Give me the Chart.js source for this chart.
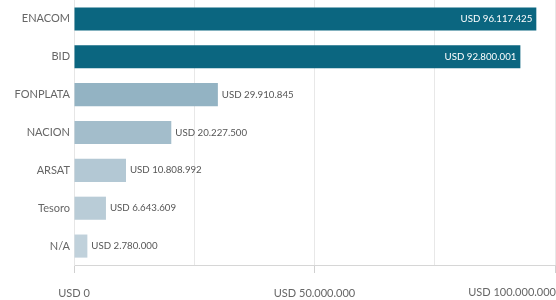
<!DOCTYPE html>
<html>
<head>
<meta charset="utf-8">
<script src="https://cdn.jsdelivr.net/npm/chart.js@4"></script>
<style>
  html, body { margin: 0; padding: 0; background: #fff; }
  .chart-wrap { position: relative; width: 556px; height: 300px; }
</style>
</head>
<body>
<div class="chart-wrap"><canvas id="chart-fuentes"></canvas></div>
<script>
// Datos
const categorias = ["ENACOM", "BID", "FONPLATA", "NACION", "ARSAT", "Tesoro", "N/A"];
const montos = [96117425, 92800001, 29910845, 20227500, 10808992, 6643609, 2780000];
const coloresBarras = ["#0b6680", "#0b6680", "#93b3c3", "#a3bdcb", "#b3c8d4", "#b9ccd7", "#c0d1db"];
const ticksEje = [0, 50000000, 100000000];

const FUENTE = "Lato, 'Open Sans', sans-serif";

function formatoUSD(v) {
    return "USD " + Math.round(v).toString().replace(/\B(?=(\d{3})+(?!\d))/g, ".");
}

// Etiquetas de valor: dentro (blancas) para las barras grandes, fuera para el resto
const etiquetasValor = {
    id: "etiquetasValor",
    afterDatasetsDraw(chart) {
        const ctx = chart.ctx;
        const meta = chart.getDatasetMeta(0);
        ctx.save();
        ctx.font = "9.7px " + FUENTE;
        ctx.textBaseline = "middle";
        meta.data.forEach((bar, i) => {
            const txt = formatoUSD(montos[i]);
            if (montos[i] > 50000000) {
                ctx.fillStyle = "#ffffff";
                ctx.textAlign = "right";
                ctx.fillText(txt, bar.x - 4, bar.y);
            } else {
                ctx.fillStyle = "#555555";
                ctx.textAlign = "left";
                ctx.fillText(txt, bar.x + 4, bar.y);
            }
        });
        // último tick del eje x, alineado a la derecha para que quepa
        const x = chart.scales.x;
        const ultimo = ticksEje[ticksEje.length - 1];
        ctx.font = "11px " + FUENTE;
        ctx.fillStyle = "#666666";
        ctx.textAlign = "right";
        ctx.textBaseline = "top";
        ctx.fillText(formatoUSD(ultimo), x.getPixelForValue(ultimo) + 1, x.top + 8 + 14);
        ctx.restore();
    }
};

const ctx = document.getElementById("chart-fuentes").getContext("2d");
new Chart(ctx, {
    type: "bar",
    data: {
        labels: categorias,
        datasets: [{
            data: montos,
            backgroundColor: coloresBarras,
            barPercentage: 0.61,
            categoryPercentage: 1
        }]
    },
    options: {
        indexAxis: "y",
        responsive: true,
        maintainAspectRatio: false,
        animation: false,
        layout: { padding: { top: 0, right: 1, left: 0, bottom: 0 } },
        plugins: {
            legend: { display: false },
            tooltip: { enabled: false }
        },
        scales: {
            x: {
                min: 0,
                max: 100000000,
                afterFit: (scale) => { scale.paddingRight = 0; scale.paddingLeft = 0; scale.height = 35; },
                ticks: {
                    stepSize: 25000000,
                    padding: 14,
                    color: "#666",
                    font: { family: FUENTE, size: 11 },
                    maxRotation: 0,
                    autoSkip: false,
                    callback: (v) => (ticksEje.includes(v) && v !== ticksEje[ticksEje.length - 1]) ? formatoUSD(v) : ""
                },
                grid: {
                    color: "#e8e8e8",
                    tickLength: 8,
                    tickColor: (c) => ticksEje.includes(c.tick && c.tick.value) ? "#d0d0d0" : "rgba(0,0,0,0)"
                },
                border: { display: true, color: "#d6d6d6" }
            },
            y: {
                afterFit: (scale) => { scale.width = 74; scale.paddingTop = 0; scale.paddingBottom = 0; },
                ticks: {
                    padding: 4,
                    color: "#666",
                    font: { family: FUENTE, size: 11 }
                },
                grid: { display: false, drawTicks: false },
                border: { display: true, color: "#e6e6e6" }
            }
        }
    },
    plugins: [etiquetasValor]
});
</script>
</body>
</html>
